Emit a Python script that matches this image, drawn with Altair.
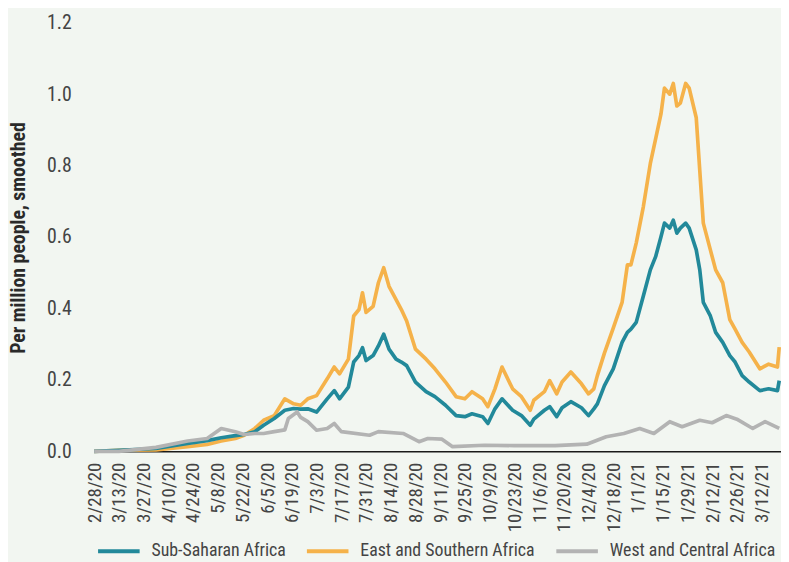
import altair as alt
import pandas as pd

START = "2020-02-28"

# day offsets (from 2020-02-28) shared by the two upper series
DAYS = [0, 14, 35, 53, 64, 72, 80, 85, 91, 96, 102, 108, 113, 117, 121, 126, 132, 136, 139, 144,
        147, 150, 152, 154, 158, 161, 164, 167, 171, 174, 177, 182, 188, 193, 199, 205, 210, 214,
        220, 223, 227, 231, 237, 242, 247, 249, 255, 258, 262, 265, 270, 276, 280, 283, 285, 289,
        294, 299, 302, 304, 307, 311, 315, 318, 321, 323, 326, 328, 330, 332, 335, 337, 341, 343,
        345, 349, 352, 356, 360, 363, 367, 371, 377, 382, 387, 388]

SUB_SAHARAN = [0, 0.003, 0.008, 0.022, 0.030, 0.038, 0.044, 0.047, 0.055, 0.073, 0.092, 0.115, 0.12,
               0.118, 0.119, 0.11, 0.147, 0.17, 0.147, 0.18, 0.25, 0.268, 0.29, 0.254, 0.268, 0.295,
               0.328, 0.286, 0.258, 0.25, 0.24, 0.194, 0.167, 0.153, 0.129, 0.10, 0.097, 0.105, 0.097,
               0.078, 0.119, 0.147, 0.115, 0.10, 0.073, 0.09, 0.115, 0.125, 0.097, 0.122, 0.139, 0.122,
               0.10, 0.119, 0.133, 0.184, 0.231, 0.305, 0.333, 0.342, 0.361, 0.434, 0.508, 0.545, 0.60,
               0.639, 0.625, 0.647, 0.611, 0.625, 0.639, 0.625, 0.564, 0.508, 0.417, 0.379, 0.333,
               0.305, 0.268, 0.25, 0.212, 0.194, 0.17, 0.175, 0.17, 0.198]

EAST_SOUTHERN = [0, 0.003, 0.004, 0.013, 0.019, 0.029, 0.036, 0.045, 0.064, 0.087, 0.10, 0.147, 0.133,
                 0.129, 0.147, 0.156, 0.203, 0.236, 0.217, 0.258, 0.379, 0.397, 0.444, 0.389, 0.406,
                 0.472, 0.514, 0.462, 0.425, 0.397, 0.365, 0.286, 0.258, 0.231, 0.194, 0.153, 0.147,
                 0.167, 0.147, 0.125, 0.175, 0.236, 0.175, 0.153, 0.115, 0.143, 0.167, 0.198, 0.161,
                 0.194, 0.222, 0.189, 0.161, 0.175, 0.212, 0.275, 0.345, 0.417, 0.522, 0.522, 0.583,
                 0.684, 0.806, 0.875, 0.944, 1.017, 1.0, 1.03, 0.967, 0.975, 1.03, 1.017, 0.934, 0.786,
                 0.639, 0.564, 0.508, 0.472, 0.369, 0.342, 0.305, 0.278, 0.231, 0.244, 0.236, 0.292]

WEST_DAYS = [0, 14, 35, 53, 64, 72, 80, 85, 91, 96, 102, 108, 110, 115, 117, 121, 126, 132, 136, 140,
             156, 161, 175, 184, 189, 197, 203, 221, 238, 261, 279, 290, 300, 309, 317, 326, 333, 343,
             350, 358, 364, 373, 380, 388]

WEST_CENTRAL = [0, 0, 0.011, 0.029, 0.036, 0.064, 0.055, 0.047, 0.05, 0.05, 0.055, 0.06, 0.092, 0.11,
                0.095, 0.083, 0.059, 0.064, 0.078, 0.055, 0.045, 0.055, 0.05, 0.027, 0.036, 0.034,
                0.013, 0.017, 0.016, 0.016, 0.02, 0.041, 0.05, 0.064, 0.05, 0.083, 0.069, 0.087, 0.08,
                0.10, 0.09, 0.064, 0.083, 0.064]

SERIES = ["Sub-Saharan Africa", "East and Southern Africa", "West and Central Africa"]
COLORS = ["#22899a", "#f5b24a", "#b3b3b3"]

TICK_DATES = ["2020-02-28", "2020-03-13", "2020-03-27", "2020-04-10", "2020-04-24", "2020-05-08",
              "2020-05-22", "2020-06-05", "2020-06-19", "2020-07-03", "2020-07-17", "2020-07-31",
              "2020-08-14", "2020-08-28", "2020-09-11", "2020-09-25", "2020-10-09", "2020-10-23",
              "2020-11-06", "2020-11-20", "2020-12-04", "2020-12-18", "2021-01-01", "2021-01-15",
              "2021-01-29", "2021-02-12", "2021-02-26", "2021-03-12"]
DOMAIN_DATES = ["2020-02-28", "2021-03-23"]
Y_TICKS = [0, 0.2, 0.4, 0.6, 0.8, 1.0, 1.2]

start = pd.Timestamp(START)


def frame(days, vals, name):
    return pd.DataFrame({
        "date": [(start + pd.Timedelta(days=d)).strftime("%Y-%m-%d") for d in days],
        "value": vals,
        "series": name,
    })


df = pd.concat([
    frame(DAYS, EAST_SOUTHERN, SERIES[1]),
    frame(DAYS, SUB_SAHARAN, SERIES[0]),
    frame(WEST_DAYS, WEST_CENTRAL, SERIES[2]),
], ignore_index=True)


def dt(s):
    y, m, d = (int(p) for p in s.split("-"))
    return alt.DateTime(year=y, month=m, date=d, utc=True)


FONT = "Liberation Sans Narrow, Arial Narrow, Roboto Condensed, DejaVu Sans Condensed, sans-serif"

x_enc = alt.X(
    "date:T",
    scale=alt.Scale(type="utc", domain=[dt(s) for s in DOMAIN_DATES]),
    axis=alt.Axis(
        values=[dt(s) for s in TICK_DATES],
        labelExpr="utcFormat(datum.value, '%-m/%-d/%y')",
        labelAngle=-90,
        labelFontSize=19,
        labelPadding=11,
        ticks=False,
        grid=False,
        domainColor="#1a1a1a",
        domainWidth=1.5,
        labelColor="#444444",
        labelFont=FONT,
        title=None,
    ),
)
y_enc = alt.Y(
    "value:Q",
    scale=alt.Scale(domain=[0, 1.2]),
    axis=alt.Axis(
        values=Y_TICKS,
        format=".1f",
        grid=False,
        domain=False,
        ticks=False,
        labelPadding=23,
        labelFontSize=20,
        labelColor="#444444",
        labelFont=FONT,
        title="Per million people, smoothed",
        titleFont=FONT,
        titleFontSize=20,
        titleFontWeight="bold",
        titleColor="#2a2a2a",
        titleAngle=270,
        titleAlign="center",
        titleBaseline="middle",
        titleX=-76,
        titleY=217,
    ),
)
color_enc = alt.Color(
    "series:N",
    scale=alt.Scale(domain=SERIES, range=COLORS),
    title=None,
    legend=alt.Legend(
        orient="none",
        legendX=2,
        legendY=511,
        direction="horizontal",
        symbolType="stroke",
        symbolSize=1764,
        symbolStrokeWidth=4,
        labelFont=FONT,
        labelFontSize=18,
        labelColor="#444444",
        labelOffset=10,
        labelLimit=400,
        columnPadding=13,
    ),
)

layers = []
for name in [SERIES[1], SERIES[0], SERIES[2]]:
    layers.append(
        alt.Chart(df)
        .transform_filter(alt.datum.series == name)
        .mark_line(strokeWidth=3.7, strokeJoin="round")
        .encode(x=x_enc, y=y_enc, color=color_enc)
    )

chart = (
    alt.layer(*layers)
    .properties(
        width=694,
        height=433,
        background="#f2f6f1",
        autosize=alt.AutoSizeParams(type="none"),
        padding={"left": 87, "top": 12, "right": 0, "bottom": 117},
    )
    .configure_view(stroke=None)
)

chart.save("out.html", embed_options={"renderer": "svg", "actions": False})
